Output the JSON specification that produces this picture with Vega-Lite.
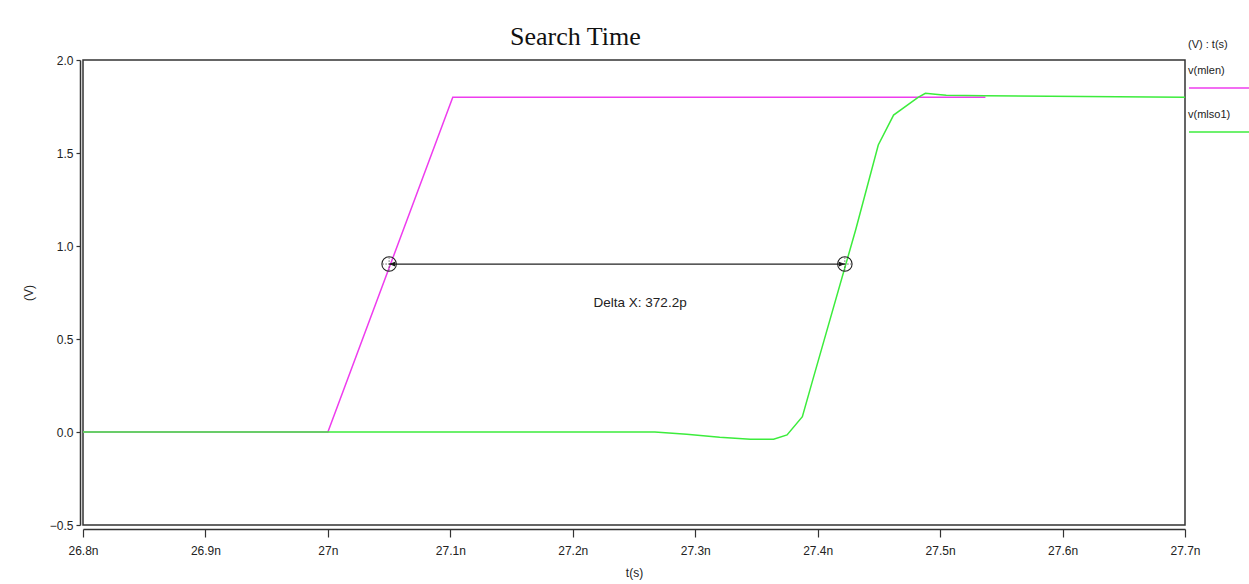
{
  "$schema": "https://vega.github.io/schema/vega-lite/v6.json",
  "width": 1102,
  "height": 465,
  "autosize": "none",
  "padding": {"left": 83, "top": 60, "right": 64, "bottom": 59},
  "background": "white",
  "title": {
    "text": "Search Time",
    "font": "Liberation Serif",
    "fontSize": 26,
    "fontWeight": "normal",
    "color": "#111111",
    "anchor": "start",
    "frame": "group",
    "dx": 427,
    "offset": -37,
    "baseline": "bottom"
  },
  "config": {
    "view": {"stroke": "#333333", "strokeWidth": 1.5},
    "axis": {
      "grid": false,
      "labelFlush": false,
      "domainColor": "#333333",
      "domainWidth": 1.5,
      "tickColor": "#333333",
      "tickWidth": 1.2,
      "labelFont": "Liberation Sans",
      "labelFontSize": 12,
      "labelColor": "#222222",
      "titleFont": "Liberation Sans",
      "titleFontSize": 12,
      "titleFontWeight": "normal",
      "titleColor": "#222222"
    }
  },
  "datasets": {
    "waves": [
      {"signal": "v(mlen)", "t": 26.8, "v": 0},
      {"signal": "v(mlen)", "t": 27.0, "v": 0},
      {"signal": "v(mlen)", "t": 27.102, "v": 1.8},
      {"signal": "v(mlen)", "t": 27.537, "v": 1.8},
      {"signal": "v(mlso1)", "t": 26.8, "v": 0},
      {"signal": "v(mlso1)", "t": 27.267, "v": 0},
      {"signal": "v(mlso1)", "t": 27.293, "v": -0.012},
      {"signal": "v(mlso1)", "t": 27.32, "v": -0.028},
      {"signal": "v(mlso1)", "t": 27.345, "v": -0.039},
      {"signal": "v(mlso1)", "t": 27.364, "v": -0.039},
      {"signal": "v(mlso1)", "t": 27.375, "v": -0.016},
      {"signal": "v(mlso1)", "t": 27.3875, "v": 0.082},
      {"signal": "v(mlso1)", "t": 27.396, "v": 0.28},
      {"signal": "v(mlso1)", "t": 27.431, "v": 1.086},
      {"signal": "v(mlso1)", "t": 27.4495, "v": 1.543},
      {"signal": "v(mlso1)", "t": 27.462, "v": 1.704},
      {"signal": "v(mlso1)", "t": 27.482, "v": 1.799},
      {"signal": "v(mlso1)", "t": 27.488, "v": 1.821},
      {"signal": "v(mlso1)", "t": 27.496, "v": 1.816},
      {"signal": "v(mlso1)", "t": 27.505, "v": 1.81},
      {"signal": "v(mlso1)", "t": 27.537, "v": 1.808},
      {"signal": "v(mlso1)", "t": 27.7, "v": 1.8}
    ],
    "cursor": [
      {"t1": 27.05, "t2": 27.4222, "v": 0.903, "label": "Delta X: 372.2p"}
    ]
  },
  "layer": [
    {
      "data": {"name": "waves"},
      "mark": {"type": "line", "strokeWidth": 1.5, "clip": true},
      "encoding": {
        "x": {
          "field": "t",
          "type": "quantitative",
          "scale": {"domain": [26.8, 27.7], "nice": false, "zero": false},
          "axis": {
            "title": "t(s)",
            "values": [26.8, 26.9, 27.0, 27.1, 27.2, 27.3, 27.4, 27.5, 27.6, 27.7],
            "labelExpr": "format(datum.value, '.4~g') + 'n'",
            "offset": 4,
            "tickSize": 8,
            "labelPadding": 8,
            "titlePadding": 11
          }
        },
        "y": {
          "field": "v",
          "type": "quantitative",
          "scale": {"domain": [-0.5, 2.0], "nice": false, "zero": false},
          "axis": {
            "title": "(V)",
            "values": [-0.5, 0, 0.5, 1.0, 1.5, 2.0],
            "format": ".1f",
            "offset": 3,
            "tickSize": 4,
            "labelPadding": 3,
            "titlePadding": 14
          }
        },
        "color": {
          "field": "signal",
          "type": "nominal",
          "scale": {"domain": ["v(mlen)", "v(mlso1)"], "range": ["#ee3cee", "#3cec3c"]},
          "legend": {
            "orient": "none",
            "legendX": 1105,
            "legendY": -21,
            "title": "(V) : t(s)",
            "titleFont": "Liberation Sans",
            "titleFontSize": 11,
            "titleFontWeight": "normal",
            "titleColor": "#222222",
            "titlePadding": 27,
            "labelFont": "Liberation Sans",
            "labelFontSize": 11,
            "labelColor": "#222222",
            "symbolType": "M-1,0L6,0",
            "symbolSize": 400,
            "symbolStrokeWidth": 1.5,
            "labelOffset": -22,
            "rowPadding": 18,
            "encode": {
              "labels": {"update": {"dy": {"value": -17}}}
            }
          }
        }
      }
    },
    {
      "data": {"name": "cursor"},
      "mark": {"type": "rule", "color": "#222222", "strokeWidth": 1.2},
      "encoding": {
        "x": {"field": "t1", "type": "quantitative"},
        "x2": {"field": "t2"},
        "y": {"field": "v", "type": "quantitative"}
      }
    },
    {
      "data": {"name": "cursor"},
      "mark": {"type": "point", "shape": "M0,0L2,-0.8L2,0.8Z", "size": 36, "filled": true, "color": "#111111", "opacity": 1},
      "encoding": {
        "x": {"field": "t1", "type": "quantitative"},
        "y": {"field": "v", "type": "quantitative"}
      }
    },
    {
      "data": {"name": "cursor"},
      "mark": {"type": "point", "shape": "M0,0L-2,-0.8L-2,0.8Z", "size": 36, "filled": true, "color": "#111111", "opacity": 1},
      "encoding": {
        "x": {"field": "t2", "type": "quantitative"},
        "y": {"field": "v", "type": "quantitative"}
      }
    },
    {
      "data": {"name": "cursor"},
      "transform": [{"fold": ["t1", "t2"], "as": ["end", "tc"]}],
      "layer": [
        {
          "mark": {"type": "point", "shape": "circle", "size": 210, "filled": false, "color": "#222222", "strokeWidth": 1.1, "opacity": 1},
          "encoding": {
            "x": {"field": "tc", "type": "quantitative"},
            "y": {"field": "v", "type": "quantitative"}
          }
        },
        {
          "mark": {"type": "point", "shape": "M-1,0L1,0M0,-1L0,1", "size": 180, "filled": false, "color": "#444444", "strokeWidth": 0.8, "strokeDash": [1.5, 1.5], "opacity": 1},
          "encoding": {
            "x": {"field": "tc", "type": "quantitative"},
            "y": {"field": "v", "type": "quantitative"}
          }
        }
      ]
    },
    {
      "data": {"name": "cursor"},
      "mark": {"type": "text", "font": "Liberation Sans", "fontSize": 13.5, "color": "#222222", "align": "center", "dx": 251, "dy": 39},
      "encoding": {
        "x": {"field": "t1", "type": "quantitative"},
        "y": {"field": "v", "type": "quantitative"},
        "text": {"field": "label"}
      }
    }
  ]
}
